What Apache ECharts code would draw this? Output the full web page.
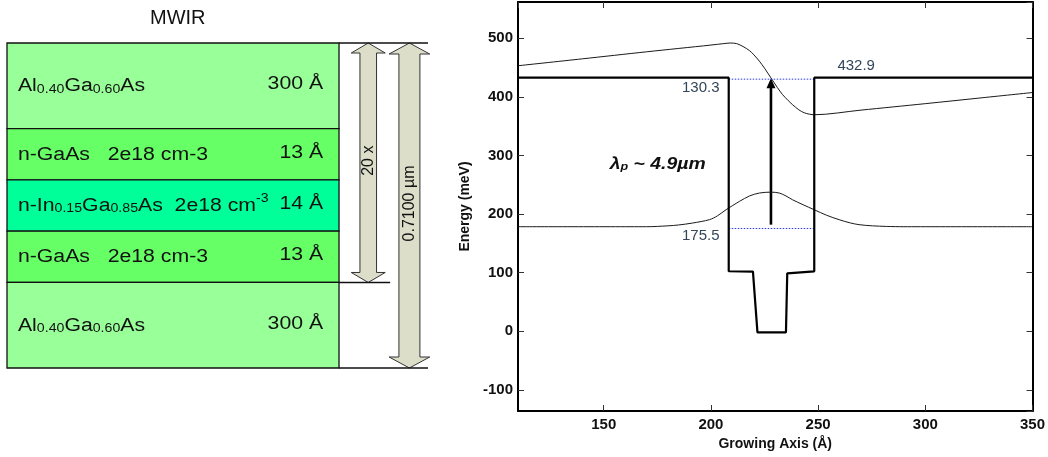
<!DOCTYPE html>
<html><head><meta charset="utf-8">
<script src="https://cdn.jsdelivr.net/npm/echarts@6/dist/echarts.min.js"></script>
<style>html,body{margin:0;padding:0;background:#fff}#c{width:1048px;height:457px}</style>
</head><body><div id="c"></div>
<script>
// ================= DATA =================
// Left: MWIR layer stack (top to bottom)
const layerNames = [
  '{m|Al}{s|0.40}{m|Ga}{s|0.60}{m|As}',
  '{m|n-GaAs   2e18 cm-3}',
  '{m|n-In}{s|0.15}{m|Ga}{s|0.85}{m|As  2e18 cm}{p|-3}',
  '{m|n-GaAs   2e18 cm-3}',
  '{m|Al}{s|0.40}{m|Ga}{s|0.60}{m|As}'
];
const layerThickness = ['300 Å', '13 Å', '14 Å', '13 Å', '300 Å'];
const layerKinds = ['barrier', 'contact', 'well', 'contact', 'barrier'];
const diagramTitle = 'MWIR';
const periodLabel = '20 x';
const totalLabel = '0.7100 µm';
const periodLayerCount = 4;

// Right: band diagram, energy (meV) vs growing axis (Å)
const bandX = [110, 208.3, 208.3, 219.6, 220.4, 221.7, 235.0, 235.6, 236.4, 248.2, 248.2, 350];
const bandY = [432.9, 432.9, 102.5, 101.8, 99.0, -1.7, -1.7, 99.0, 101.8, 102.4, 432.9, 432.9];

const upperX = [110, 140, 170, 200, 206, 209, 212, 215, 218, 220, 222.6, 225, 228, 231, 233.4, 236, 238, 241, 243.5, 246, 248.3, 270, 300, 325, 350];
const upperY = [453.2, 465, 477, 488.5, 491, 492, 491, 486, 479, 472, 461, 449, 432.5, 416, 404, 394, 387, 378, 373, 370.5, 369.6, 377.5, 388.5, 398, 407.5];

const lowerX = [110, 170, 180, 185, 191.5, 199.3, 203, 207.1, 213.3, 218, 222.6, 228, 231.9, 235, 238, 243, 248.1, 254, 259.8, 265, 269.1, 275.3, 282, 290, 350];
const lowerY = [178.5, 178.5, 180, 181.5, 184.8, 190.5, 197, 207.6, 221.7, 231, 236, 237.5, 236, 231, 224.6, 216, 207.6, 198, 190.5, 185, 182, 180, 179, 178.5, 178.5];

const levelX = [208.3, 248.2];
const levelE = [430.3, 175.5];
const levelLabels = ['130.3', '175.5'];
const barrierLabel = '432.9';
const transitionLabel = '{l|λ}{s|p}{l| ~ 4.9µm}';
const transitionX = 228;
const transitionFrom = 182;
const transitionTo = 432;

const xTickLabels = ['150', '200', '250', '300', '350'];
const yTickLabels = ['-100', '0', '100', '200', '300', '400', '500'];

// ================= STYLE / LAYOUT =================
const FONT = 'Liberation Sans, Arial, sans-serif';
const layerSpan = [5, 3, 3, 3, 5];           // drawn height units of each layer
const layerColors = { barrier: '#99ff99', contact: '#66ff66', well: '#00ff99' };
const arrowFill = '#dcdec9';

const zip = (a, b) => a.map((v, i) => [v, b[i]]);
const cum = i => layerSpan.slice(0, i).reduce((s, v) => s + v, 0);
const totalRows = cum(layerSpan.length);
const periodRows = cum(periodLayerCount);

const richLeft = {
  m: { fontSize: 18, fontFamily: FONT, color: '#111', lineHeight: 22, verticalAlign: 'bottom' },
  s: { fontSize: 12, fontFamily: FONT, color: '#111', lineHeight: 12, verticalAlign: 'bottom' },
  p: { fontSize: 12, fontFamily: FONT, color: '#111', lineHeight: 14, verticalAlign: 'top' }
};

function renderLayer(params, api) {
  const i = params.dataIndex;
  const y0 = cum(i), y1 = y0 + layerSpan[i];
  const p0 = api.coord([0, y0]), p1 = api.coord([100, y1]);
  const cy = (p0[1] + p1[1]) / 2 - 1.5;
  const lx = api.coord([3.3, 0])[0], rx = api.coord([95.2, 0])[0];
  return {
    type: 'group', children: [
      { type: 'rect', shape: { x: p0[0], y: p0[1], width: p1[0] - p0[0], height: p1[1] - p0[1] },
        style: { fill: layerColors[layerKinds[i]], stroke: '#111', lineWidth: 1.3 } },
      { type: 'text', x: lx, y: cy, scaleX: 1.18,
        style: { text: layerNames[i], rich: richLeft, align: 'left', verticalAlign: 'middle', fontSize: 18, fontFamily: FONT, fill: '#111' } },
      { type: 'text', x: rx, y: cy, scaleX: 1.18,
        style: { text: layerThickness[i], align: 'right', verticalAlign: 'middle', fontSize: 18, fontFamily: FONT, fill: '#111' } }
    ]
  };
}

const spanArrows = [
  { rows: periodRows, label: periodLabel, cx: 108.8, w: 8.3, h: 17, L: 10, lineEnd: 115.4 },
  { rows: totalRows, label: totalLabel, cx: 121.2, w: 10.5, h: 20.3, L: 11, lineEnd: 126.8 }
];

function renderSpanArrow(params, api) {
  const a = spanArrows[params.dataIndex];
  const top = api.coord([a.cx, 0]), bot = api.coord([a.cx, a.rows]);
  const cx = top[0], yt = top[1], yb = bot[1];
  const xr = api.coord([100, 0])[0], xe = api.coord([a.lineEnd, 0])[0];
  const pts = [[cx, yt], [cx + a.h, yt + a.L], [cx + a.w, yt + a.L], [cx + a.w, yb - a.L], [cx + a.h, yb - a.L],
    [cx, yb], [cx - a.h, yb - a.L], [cx - a.w, yb - a.L], [cx - a.w, yt + a.L], [cx - a.h, yt + a.L]];
  const children = [
    { type: 'polygon', shape: { points: pts }, style: { fill: arrowFill, stroke: '#333', lineWidth: 1 } },
    { type: 'text', x: cx, y: (yt + yb) / 2 - 2, rotation: Math.PI / 2,
      style: { text: a.label, align: 'center', verticalAlign: 'middle', fontSize: 16, fontFamily: FONT, fill: '#111' } },
    { type: 'line', shape: { x1: xr, y1: yb, x2: xe, y2: yb }, style: { stroke: '#111', lineWidth: 1.5 } }
  ];
  if (params.dataIndex === 1) {
    children.push({ type: 'line', shape: { x1: xr, y1: yt, x2: xe, y2: yt }, style: { stroke: '#111', lineWidth: 1.5 } });
  }
  return { type: 'group', children };
}

const annotations = [
  { text: levelLabels[0], at: [204, 415], anchor: 'right', size: 15, color: '#34465a' },
  { text: levelLabels[1], at: [204, 163.6], anchor: 'right', size: 15, color: '#34465a' },
  { text: barrierLabel, at: [259, 452.7], anchor: 'left', size: 15, color: '#34465a' },
  { text: transitionLabel, at: [152.8, 289.4], anchor: 'left', size: 17, color: '#111', rich: true }
];

function renderAnno(params, api) {
  const a = annotations[params.dataIndex];
  const p = api.coord(a.at);
  const style = { text: a.text, align: a.anchor, verticalAlign: 'middle', fontSize: a.size, fontFamily: FONT, fill: a.color };
  if (a.rich) {
    style.rich = {
      l: { fontSize: 17, fontFamily: FONT, fontWeight: 'bold', fontStyle: 'italic', color: '#111', lineHeight: 22, verticalAlign: 'bottom' },
      s: { fontSize: 11, fontFamily: FONT, fontWeight: 'bold', fontStyle: 'italic', color: '#111', lineHeight: 11, verticalAlign: 'bottom' }
    };
  }
  return { type: 'text', x: p[0], y: p[1], scaleX: a.rich ? 1.14 : 1, style };
}

function renderTransition(params, api) {
  const p0 = api.coord([transitionX, transitionFrom]), p1 = api.coord([transitionX, transitionTo]);
  const hl = 10, hw = 4.5;
  return {
    type: 'group', children: [
      { type: 'line', shape: { x1: p0[0], y1: p0[1], x2: p1[0], y2: p1[1] + hl - 1 }, style: { stroke: '#000', lineWidth: 2.6 } },
      { type: 'polygon', shape: { points: [[p1[0], p1[1]], [p1[0] - hw, p1[1] + hl], [p1[0] + hw, p1[1] + hl]] }, style: { fill: '#000' } }
    ]
  };
}

const axisFont = { fontFamily: FONT, fontWeight: 'bold', fontSize: 15, color: '#111' };
const boxAxisLine = { show: true, onZero: false, lineStyle: { color: '#000', width: 2 } };
const inTick = { show: true, inside: true, length: 6, lineStyle: { color: '#333', width: 1 } };

const option = {
  animation: false,
  backgroundColor: '#fff',
  title: { text: diagramTitle, left: 150, top: 8, padding: 0,
    textStyle: { fontFamily: FONT, fontSize: 20, fontWeight: 'normal', color: '#111' } },
  grid: [
    { left: 518, top: 2, width: 516, height: 409 },
    { left: 7, top: 43, width: 423, height: 325 }
  ],
  xAxis: [
    { type: 'value', gridIndex: 0, min: 110, max: 350, splitNumber: 5, position: 'bottom',
      axisLine: boxAxisLine, axisTick: inTick, splitLine: { show: false },
      axisLabel: Object.assign({ margin: 6, showMinLabel: false,
        formatter: v => xTickLabels.includes(String(v)) ? String(v) : '' }, axisFont),
      name: 'Growing Axis (Å)', nameLocation: 'middle', nameGap: 25,
      nameTextStyle: { fontFamily: FONT, fontWeight: 'bold', fontSize: 14, color: '#111' } },
    { type: 'value', gridIndex: 0, min: 110, max: 350, splitNumber: 5, position: 'top',
      axisLine: boxAxisLine, axisTick: inTick, splitLine: { show: false }, axisLabel: { show: false } },
    { type: 'value', gridIndex: 1, min: 0, max: 127.4, show: false }
  ],
  yAxis: [
    { type: 'value', gridIndex: 0, min: -136, max: 562, splitNumber: 7, position: 'left',
      axisLine: boxAxisLine, axisTick: inTick, splitLine: { show: false },
      axisLabel: Object.assign({ margin: 5, showMinLabel: false, showMaxLabel: false,
        formatter: v => yTickLabels.includes(String(v)) ? String(v) : '' }, axisFont),
      name: 'Energy (meV)', nameLocation: 'middle', nameGap: 46, nameRotate: 90,
      nameTextStyle: { fontFamily: FONT, fontWeight: 'bold', fontSize: 14, color: '#111' } },
    { type: 'value', gridIndex: 0, min: -136, max: 562, splitNumber: 7, position: 'right',
      axisLine: boxAxisLine, axisTick: inTick, splitLine: { show: false }, axisLabel: { show: false } },
    { type: 'value', gridIndex: 1, min: 0, max: totalRows, inverse: true, show: false }
  ],
  series: [
    { type: 'custom', name: 'layers', xAxisIndex: 2, yAxisIndex: 2, renderItem: renderLayer,
      data: layerNames.map((_, i) => [i]), silent: true },
    { type: 'custom', name: 'spans', xAxisIndex: 2, yAxisIndex: 2, renderItem: renderSpanArrow,
      data: spanArrows.map((_, i) => [i]), silent: true },
    { type: 'line', name: 'upper', xAxisIndex: 0, yAxisIndex: 0, data: zip(upperX, upperY),
      showSymbol: false, smooth: 0.3, lineStyle: { color: '#1a1a1a', width: 1 }, silent: true },
    { type: 'line', name: 'lower', xAxisIndex: 0, yAxisIndex: 0, data: zip(lowerX, lowerY),
      showSymbol: false, smooth: 0.3, lineStyle: { color: '#1a1a1a', width: 1 }, silent: true },
    { type: 'line', name: 'E2', xAxisIndex: 0, yAxisIndex: 0, data: zip(levelX, [levelE[0], levelE[0]]),
      showSymbol: false, lineStyle: { color: '#2a3ae0', width: 1, type: [1.5, 1.5] }, silent: true },
    { type: 'line', name: 'E1', xAxisIndex: 0, yAxisIndex: 0, data: zip(levelX, [levelE[1], levelE[1]]),
      showSymbol: false, lineStyle: { color: '#2a3ae0', width: 1, type: [1.5, 1.5] }, silent: true },
    { type: 'line', name: 'band', xAxisIndex: 0, yAxisIndex: 0, data: zip(bandX, bandY),
      showSymbol: false, lineStyle: { color: '#000', width: 2.2 }, silent: true },
    { type: 'custom', name: 'transition', xAxisIndex: 0, yAxisIndex: 0, renderItem: renderTransition,
      data: [[transitionX, transitionTo]], silent: true },
    { type: 'custom', name: 'annotations', xAxisIndex: 0, yAxisIndex: 0, renderItem: renderAnno,
      data: annotations.map(a => a.at), silent: true }
  ]
};

const chart = echarts.init(document.getElementById('c'), null, { renderer: 'canvas' });
chart.setOption(option);
</script>
</body></html>
